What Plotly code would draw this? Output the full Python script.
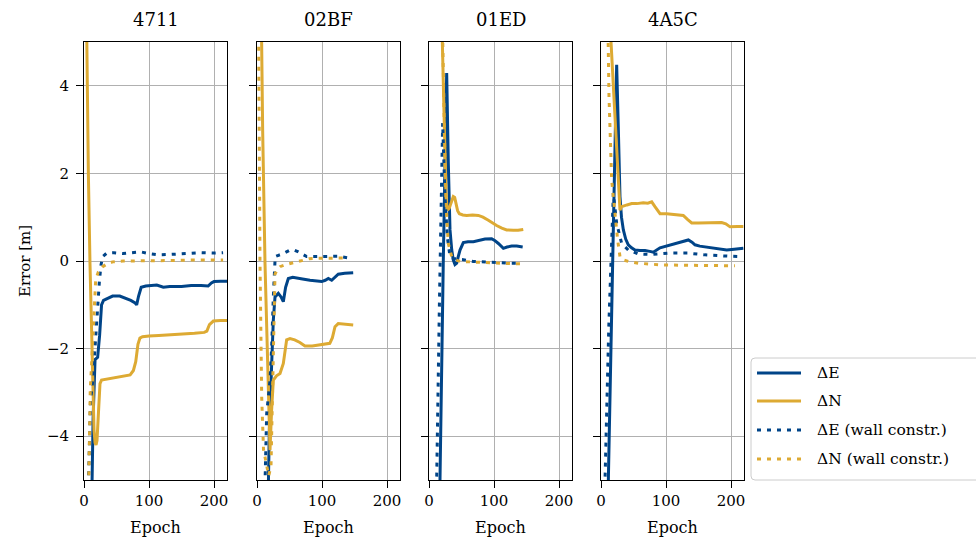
import plotly.graph_objects as go

# ---------------------------------------------------------------------------
# Data: position error per epoch for four receivers
# ---------------------------------------------------------------------------
RECEIVERS = ["4711", "02BF", "01ED", "4A5C"]
EPOCH_TICKS = [0, 100, 200]
ERR_TICKS = [-4, -2, 0, 2, 4]
ERR_LABELS = ["\u22124", "\u22122", "0", "2", "4"]
LEGEND_LABELS = ["\u0394E", "\u0394N", "\u0394E (wall constr.)", "\u0394N (wall constr.)"]

# 4711
E1_ep = [8, 12, 14, 17, 21, 24, 27, 30, 36, 44, 55, 65, 72, 78, 81, 84, 88, 95, 112, 122, 132, 150, 165, 180, 191, 196, 200, 210, 220]
E1 = [-9, -5.5, -3.6, -2.25, -2.2, -1.7, -1.0, -0.9, -0.85, -0.8, -0.8, -0.85, -0.9, -0.95, -1.0, -0.8, -0.6, -0.57, -0.55, -0.6, -0.58, -0.58, -0.56, -0.56, -0.57, -0.5, -0.47, -0.46, -0.46]
N1_ep = [2, 4, 6.7, 9.2, 11.8, 15.4, 17, 18.5, 20, 22, 24.6, 27, 35, 44, 55, 65, 71, 76, 79.6, 83, 86, 90, 100, 115, 130, 150, 170, 185, 189, 193, 199, 210, 220]
N1 = [8, 5.0, 2.0, -0.05, -1.96, -3.86, -4.15, -4.2, -4.1, -3.5, -2.8, -2.72, -2.7, -2.68, -2.65, -2.62, -2.6, -2.5, -2.3, -1.9, -1.76, -1.73, -1.71, -1.7, -1.69, -1.67, -1.65, -1.63, -1.6, -1.45, -1.37, -1.36, -1.36]
Ew1_ep = [3, 7, 10, 13, 16, 18.5, 21, 23.5, 26, 28.7, 35, 46, 60, 75, 87, 100, 115, 133, 150, 163, 180, 200, 214]
Ew1 = [-9, -5, -3.2, -2.8, -2.2, -1.6, -1.1, -0.5, -0.1, 0.1, 0.18, 0.19, 0.17, 0.2, 0.21, 0.17, 0.14, 0.15, 0.16, 0.18, 0.19, 0.18, 0.19]
Nw1_ep = [3, 7, 9.6, 13, 15.5, 18, 22, 28.7, 36, 44, 60, 80, 100, 130, 160, 190, 214]
Nw1 = [-9, -5, -2.95, -1.96, -1.0, -0.43, -0.25, -0.13, -0.06, -0.02, 0.0, 0.0, 0.0, 0.01, 0.02, 0.02, 0.02]

# 02BF
E2_ep = [14, 17.4, 19, 22.6, 25.1, 27.7, 32.8, 37, 40.5, 44, 48.2, 55, 61, 70, 81.5, 92, 99.5, 105, 109.7, 114.9, 120, 125, 135, 145.6, 148]
E2 = [-8, -5, -3.86, -2.34, -1.35, -0.82, -0.74, -0.82, -0.93, -0.6, -0.4, -0.37, -0.38, -0.41, -0.44, -0.46, -0.47, -0.44, -0.4, -0.44, -0.36, -0.3, -0.28, -0.27, -0.27]
N2_ep = [4, 7.2, 8.7, 12.3, 15.9, 20, 22.5, 25.1, 30, 35.4, 40.5, 43, 45.6, 50.8, 58, 66, 73.8, 85, 97, 105, 112, 116, 120, 125, 135, 145.6, 148]
N2 = [9, 5, 3.0, -0.05, -2.34, -4.32, -3.4, -2.72, -2.62, -2.57, -2.34, -2.0, -1.8, -1.77, -1.8, -1.86, -1.94, -1.94, -1.92, -1.9, -1.88, -1.75, -1.5, -1.43, -1.44, -1.46, -1.46]
Ew2_ep = [6, 12.3, 14.9, 20, 22.6, 25.1, 26.5, 28, 33, 40.5, 50.8, 57, 63.6, 70, 76.4, 90, 107, 125, 140.5]
Ew2 = [-9, -5, -3.48, -2.72, -1.96, -0.82, -0.2, 0.1, 0.13, 0.17, 0.25, 0.25, 0.21, 0.15, 0.1, 0.1, 0.1, 0.11, 0.07]
Nw2_ep = [1, 2.5, 4.6, 7.2, 10, 14, 18, 21.5, 24, 26, 27.7, 31, 35.4, 45, 53.3, 62, 71.3, 80, 92, 110, 125, 140.5]
Nw2 = [9, 5, -0.05, -3.1, -4.3, -4.6, -4.9, -4.7, -3.0, -1.0, -0.3, -0.2, -0.13, -0.08, -0.05, -0.01, 0.03, 0.05, 0.06, 0.07, 0.07, 0.07]

# 01ED
E3_ep = [12, 16.9, 22, 27.2, 29.7, 32.3, 35, 37.4, 40, 42.6, 45, 47.7, 52.8, 60, 68.2, 78.5, 86.2, 96.4, 101, 106.7, 114.4, 120, 127.2, 135, 144.1]
E3 = [-12, -5, 0, 4.29, 2.23, 0.71, 0.25, 0.02, -0.08, -0.05, 0.1, 0.25, 0.42, 0.44, 0.44, 0.48, 0.5, 0.51, 0.47, 0.4, 0.29, 0.32, 0.34, 0.34, 0.32]
N3_ep = [15, 20.5, 26.2, 28.2, 31, 33.3, 37.4, 39.5, 41.5, 44, 46.7, 52, 58, 67, 75.9, 83, 91.3, 98, 104, 112, 119.5, 129.7, 137, 145]
N3 = [10, 5, 1.47, 1.16, 1.2, 1.31, 1.47, 1.45, 1.31, 1.15, 1.08, 1.05, 1.04, 1.05, 1.04, 1.0, 0.93, 0.86, 0.81, 0.75, 0.71, 0.7, 0.7, 0.72]
Ew3_ep = [7, 11.8, 16, 21, 24.6, 28.2, 32.3, 37.4, 45, 52.8, 68.2, 88.7, 109, 125, 140]
Ew3 = [-12, -5, -1, 3.15, 1.47, 0.55, 0.1, 0.06, 0.04, 0.03, -0.01, -0.03, -0.05, -0.05, -0.05]
Nw3_ep = [15, 20.5, 24.6, 27.2, 29.7, 34.9, 40, 47.7, 63, 88.7, 110, 125, 140]
Nw3 = [10, 5, 2.23, 1.0, 0.4, 0.1, 0.03, -0.01, -0.02, -0.05, -0.06, -0.06, -0.06]

# 4A5C
E4_ep = [6, 11.3, 18, 24.1, 26.7, 29.2, 31.5, 34.4, 38, 42, 47, 52.3, 60, 67.7, 75, 80.5, 90.8, 100, 113.8, 125, 134.4, 140, 144.6, 152, 160, 175, 193.4, 205, 219]
E4 = [-12, -5, 0, 4.48, 3.0, 1.47, 1.0, 0.71, 0.5, 0.37, 0.3, 0.25, 0.24, 0.24, 0.22, 0.2, 0.3, 0.34, 0.4, 0.44, 0.48, 0.43, 0.37, 0.34, 0.32, 0.28, 0.25, 0.27, 0.29]
N4_ep = [8, 15.4, 29.2, 31.8, 40, 47.2, 55, 65, 72, 78, 83, 90.8, 101, 115, 126.6, 133, 139.5, 150, 165, 185.6, 192, 198.5, 210, 219]
N4 = [10, 5, 1.16, 1.24, 1.28, 1.31, 1.31, 1.33, 1.32, 1.35, 1.24, 1.08, 1.08, 1.06, 1.04, 0.95, 0.87, 0.87, 0.88, 0.88, 0.85, 0.78, 0.79, 0.79]
Ew4_ep = [2, 6.2, 12, 19, 24.1, 31.8, 42, 57.4, 78, 103.6, 134.4, 160, 196, 216]
Ew4 = [-12, -5, -1.5, 1.55, 0.86, 0.4, 0.25, 0.16, 0.15, 0.18, 0.18, 0.14, 0.11, 0.1]
Nw4_ep = [6, 10.3, 12.3, 16.4, 21.5, 25.6, 29.2, 35, 42, 57.4, 93.3, 144.6, 180, 206]
Nw4 = [10, 5, 3.76, 1.85, 1.0, 0.48, 0.1, 0.02, -0.01, -0.05, -0.09, -0.1, -0.1, -0.11]

PANELS = [
    [(E1_ep, E1), (N1_ep, N1), (Ew1_ep, Ew1), (Nw1_ep, Nw1)],
    [(E2_ep, E2), (N2_ep, N2), (Ew2_ep, Ew2), (Nw2_ep, Nw2)],
    [(E3_ep, E3), (N3_ep, N3), (Ew3_ep, Ew3), (Nw3_ep, Nw3)],
    [(E4_ep, E4), (N4_ep, N4), (Ew4_ep, Ew4), (Nw4_ep, Nw4)],
]

# ---------------------------------------------------------------------------
# Styling
# ---------------------------------------------------------------------------
W, H = 976, 540
FONT = "DejaVu Serif"
BLUE = "#004488"
GOLD = "#DDAA33"
DOT = "4px,6px"
STYLES = [
    dict(color=BLUE, width=3, dash="solid"),
    dict(color=GOLD, width=3, dash="solid"),
    dict(color=BLUE, width=3, dash=DOT),
    dict(color=GOLD, width=3, dash=DOT),
]

# panel boxes in pixels (left, right); shared top/bottom
PANEL_X = [(84, 227), (257, 400), (429, 572), (601, 744)]
TOP, BOTTOM = 42, 480
Y_DOMAIN = [1 - BOTTOM / H, 1 - TOP / H]

fig = go.Figure()
layout = dict(
    width=W, height=H,
    margin=dict(l=0, r=0, t=0, b=0, autoexpand=False),
    paper_bgcolor="white", plot_bgcolor="white",
    showlegend=False,
    font=dict(family=FONT, size=15, color="black"),
    annotations=[], shapes=[],
)

for i, (series, (x0, x1)) in enumerate(zip(PANELS, PANEL_X)):
    n = "" if i == 0 else str(i + 1)
    for (ep, val), st in zip(series, STYLES):
        fig.add_trace(go.Scatter(
            x=ep, y=val, mode="lines", line=st,
            xaxis="x" + n, yaxis="y" + n, hoverinfo="skip",
        ))
    common = dict(
        showline=True, linecolor="black", linewidth=1, mirror=True,
        ticks="outside", ticklen=7, tickwidth=1, tickcolor="black",
        showgrid=True, gridcolor="#b0b0b0", gridwidth=1,
        zeroline=False, automargin=False,
        tickfont=dict(family=FONT, size=15),
    )
    layout["xaxis" + n] = dict(
        common, domain=[x0 / W, x1 / W], range=[0, 220],
        tickvals=EPOCH_TICKS, anchor="y" + n,
    )
    layout["yaxis" + n] = dict(
        common, domain=Y_DOMAIN, range=[-5, 5],
        tickvals=ERR_TICKS, ticktext=ERR_LABELS, ticklabelstandoff=4,
        showticklabels=(i == 0), anchor="x" + n,
    )
    cx = (x0 + x1) / 2 / W
    layout["annotations"].append(dict(
        text=RECEIVERS[i], x=cx, y=1 - 20 / H, xref="paper", yref="paper",
        showarrow=False, xanchor="center", yanchor="middle",
        font=dict(family=FONT, size=18),
    ))
    layout["annotations"].append(dict(
        text="Epoch", x=cx, y=1 - 527 / H, xref="paper", yref="paper",
        showarrow=False, xanchor="center", yanchor="middle",
        font=dict(family=FONT, size=16),
    ))

layout["annotations"].append(dict(
    text="Error [m]", x=25 / W, y=1 - 261 / H, xref="paper", yref="paper",
    showarrow=False, xanchor="center", yanchor="middle", textangle=-90,
    font=dict(family=FONT, size=15),
))

# legend box (lower right, running off the page edge)
lx0, lx1, ly0, ly1, r = 751, 990, 358, 480, 4


def px(x):
    return x / W


def py(y):
    return 1 - y / H


legend_path = (
    f"M {px(lx0 + r)} {py(ly0)} L {px(lx1)} {py(ly0)} L {px(lx1)} {py(ly1)} "
    f"L {px(lx0 + r)} {py(ly1)} Q {px(lx0)} {py(ly1)} {px(lx0)} {py(ly1 - r)} "
    f"L {px(lx0)} {py(ly0 + r)} Q {px(lx0)} {py(ly0)} {px(lx0 + r)} {py(ly0)} Z"
)
layout["shapes"].append(dict(
    type="path", path=legend_path, xref="paper", yref="paper",
    line=dict(color="#cccccc", width=1), fillcolor="rgba(255,255,255,0.8)",
))
ROW_Y = [373, 401, 430, 459]
for label, st, ry in zip(LEGEND_LABELS, STYLES, ROW_Y):
    layout["shapes"].append(dict(
        type="line", xref="paper", yref="paper",
        x0=px(757), x1=px(801), y0=py(ry), y1=py(ry), line=st,
    ))
    layout["annotations"].append(dict(
        text=label, x=px(815), y=py(ry), xref="paper", yref="paper",
        showarrow=False, xanchor="left", yanchor="middle",
        font=dict(family=FONT, size=15.5),
    ))

fig.update_layout(**layout)
fig.write_html("out.html")
